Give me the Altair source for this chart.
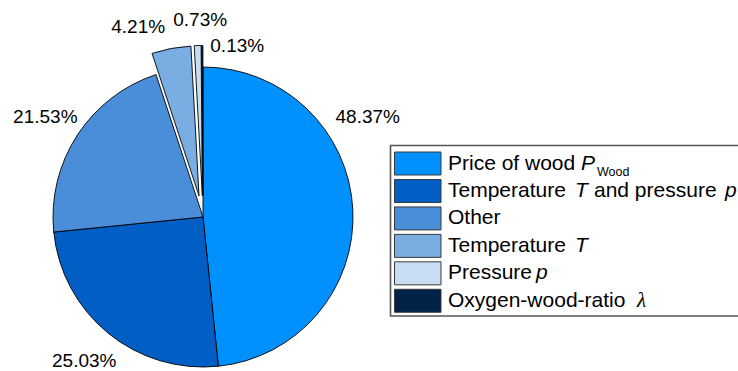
import math

import altair as alt
import pandas as pd

# ---- data -------------------------------------------------------------
categories = [
    "Price of wood",
    "Temperature and pressure",
    "Other",
    "Temperature",
    "Pressure",
    "Oxygen-wood-ratio",
]
shares = [48.37, 25.03, 21.53, 4.21, 0.73, 0.13]
colors = ["#0091FF", "#005EC4", "#4A8DD9", "#7AAEE3", "#C9DDF2", "#002246"]
exploded = ["Temperature", "Pressure", "Oxygen-wood-ratio"]

# legend label pieces: (category, text, style)
legend_pieces = [
    ("Price of wood", "Price of wood", "normal"),
    ("Price of wood", "P", "italic"),
    ("Price of wood", "Wood", "sub"),
    ("Temperature and pressure", "Temperature", "normal"),
    ("Temperature and pressure", "T", "italic"),
    ("Temperature and pressure", "and pressure", "normal"),
    ("Temperature and pressure", "p", "italic"),
    ("Other", "Other", "normal"),
    ("Temperature", "Temperature", "normal"),
    ("Temperature", "T", "italic"),
    ("Pressure", "Pressure", "normal"),
    ("Pressure", "p", "italic"),
    ("Oxygen-wood-ratio", "Oxygen-wood-ratio", "normal"),
    ("Oxygen-wood-ratio", "\u03bb", "greek"),
]

# ---- layout -----------------------------------------------------------
W, H = 738, 371
CX, CY, R = 203, 217, 150
EXPLODE = 21.5
LABEL_R = 188
FONT = "Liberation Sans"

# label nudges (dx, dy) away from the slice bisector
label_nudge = {
    "Price of wood": (-23, -90),
    "Temperature and pressure": (0, -1.5),
    "Other": (0, 2),
    "Temperature": (-30, -5),
    "Pressure": (3, -9),
    "Oxygen-wood-ratio": (35, 17),
}

# x position of each legend label piece, in the order of legend_pieces
legend_piece_x = [448, 581, 597, 448, 575, 594, 725, 448, 448, 575, 448, 536, 448, 637]

piece_style = {
    "normal": dict(font=FONT, fontSize=21),
    "italic": dict(font=FONT, fontSize=21, fontStyle="italic"),
    "sub": dict(font=FONT, fontSize=12.5, dy=8),
    "greek": dict(font="Liberation Serif", fontSize=21, fontStyle="italic"),
}

TAU = 2 * math.pi
theta_scale = alt.Scale(domain=[0, 100], range=[0, TAU])
color_scale = alt.Scale(domain=categories, range=colors)
legend_y = alt.Y(
    "category:N",
    scale=alt.Scale(domain=categories, range=[149.8, 314.5],
                    paddingInner=0.162, paddingOuter=0.081),
    axis=None,
)

df = pd.DataFrame({"category": categories, "share": shares,
                   "order": list(range(len(categories)))})

base = (
    alt.Chart(df)
    .transform_window(cum="sum(share)", sort=[alt.SortField("order")])
    .transform_calculate(
        start="datum.cum - datum.share",
        mid="datum.cum - datum.share / 2",
        label="format(datum.share, '.2f') + '%'",
    )
)


def only(names):
    return alt.FieldOneOfPredicate(field="category", oneOf=list(names))


def slices(names, dx=0.0, dy=0.0):
    return (
        base.transform_filter(only(names))
        .mark_arc(outerRadius=R, stroke="black", strokeWidth=0.9)
        .encode(
            theta=alt.Theta("start:Q", scale=theta_scale, stack=False),
            theta2=alt.Theta2("cum:Q"),
            color=alt.Color("category:N", scale=color_scale, legend=None),
            x=alt.value(CX + dx),
            y=alt.value(CY + dy),
        )
    )


# main pie, then each exploded slice pushed out along its bisector
layers = [slices([c for c in categories if c not in exploded])]
cum = 0.0
for name, s in zip(categories, shares):
    mid = (cum + s / 2) / 100 * TAU
    cum += s
    if name in exploded:
        layers.append(slices([name], EXPLODE * math.sin(mid), -EXPLODE * math.cos(mid)))

# percentage labels
for name in categories:
    dx, dy = label_nudge.get(name, (0, 0))
    layers.append(
        base.transform_filter(only([name]))
        .mark_text(radius=LABEL_R, font=FONT, fontSize=19, color="black",
                   align="center", baseline="middle", dx=dx, dy=dy)
        .encode(
            theta=alt.Theta("mid:Q", scale=theta_scale, stack=False),
            text="label:N",
            x=alt.value(CX),
            y=alt.value(CY),
        )
    )

# legend frame
frame = pd.DataFrame({"k": [0]})
layers.append(
    alt.Chart(frame)
    .mark_rect(fill="white", stroke="#555555", strokeWidth=1.6)
    .encode(x=alt.value(390.5), x2=alt.value(770), y=alt.value(145.5), y2=alt.value(316))
)

# legend swatches
layers.append(
    alt.Chart(df)
    .mark_rect(stroke="#3a3a3a", strokeWidth=1)
    .encode(
        x=alt.value(394.5),
        x2=alt.value(441),
        y=legend_y,
        color=alt.Color("category:N", scale=color_scale, legend=None),
    )
)

# legend labels
for (cat, txt, style), px in zip(legend_pieces, legend_piece_x):
    layers.append(
        alt.Chart(pd.DataFrame({"category": [cat], "text": [txt]}))
        .mark_text(align="left", baseline="middle", color="black", **piece_style[style])
        .encode(x=alt.value(px), y=legend_y, text="text:N")
    )

chart = (
    alt.layer(*layers)
    .properties(width=W, height=H, padding=0, background="white",
                autosize=alt.AutoSizeParams(type="none"))
    .configure_view(stroke=None)
)

chart.save("out.html", embed_options={"renderer": "svg", "actions": False})
